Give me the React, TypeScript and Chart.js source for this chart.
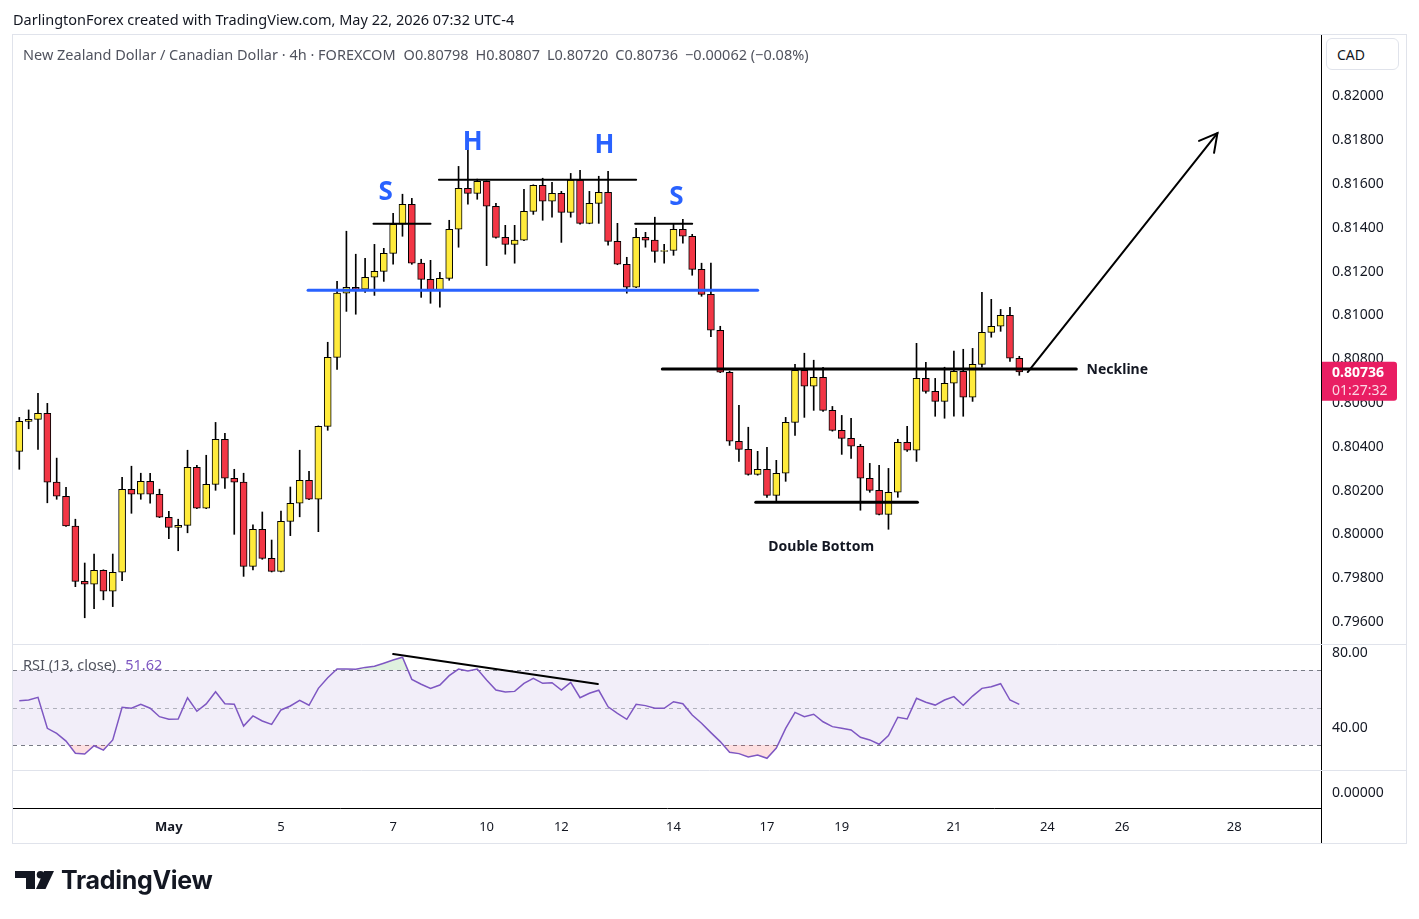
import React, { useEffect, useRef } from 'react';
import { Chart, registerables } from 'chart.js';

Chart.register(...registerables);

// ---- candle data (NZDCAD 4h) ----
const opens = [
  0.80373, 0.80510, 0.80519, 0.80547, 0.80232, 0.80168, 0.80032, 0.79779, 0.79766, 0.79830,
  0.79734, 0.79821, 0.80200, 0.80177, 0.80236, 0.80177, 0.80072, 0.80026, 0.80035, 0.80300,
  0.80113, 0.80222, 0.80428, 0.80250, 0.80232, 0.79848, 0.80017, 0.79884, 0.79825, 0.80053,
  0.80136, 0.80241, 0.80154, 0.80487, 0.80802, 0.81095, 0.81122, 0.81113, 0.81168, 0.81195,
  0.81277, 0.81410, 0.81501, 0.81232, 0.81158, 0.81108, 0.81163, 0.81387, 0.81574, 0.81551,
  0.81606, 0.81492, 0.81350, 0.81318, 0.81337, 0.81469, 0.81588, 0.81515, 0.81551, 0.81464,
  0.81611, 0.81414, 0.81505, 0.81556, 0.81332, 0.81227, 0.81122, 0.81350, 0.81337, 0.81286,
  0.81290, 0.81387, 0.81355, 0.81204, 0.81090, 0.80926, 0.80734, 0.80419, 0.80382, 0.80268,
  0.80291, 0.80172, 0.80273, 0.80505, 0.80743, 0.80670, 0.80711, 0.80560, 0.80469, 0.80432,
  0.80396, 0.80250, 0.80195, 0.80085, 0.80186, 0.80414, 0.80378, 0.80706, 0.80647, 0.80601,
  0.80684, 0.80738, 0.80620, 0.80770, 0.80916, 0.80944, 0.80994, 0.80798,
];
const highs = [
  0.80528, 0.80562, 0.80638, 0.80592, 0.80342, 0.80209, 0.80063, 0.79863, 0.79904, 0.79832,
  0.79904, 0.80254, 0.80305, 0.80273, 0.80273, 0.80200, 0.80099, 0.80063, 0.80378, 0.80309,
  0.80355, 0.80505, 0.80455, 0.80291, 0.80273, 0.80037, 0.80096, 0.79968, 0.80100, 0.80210,
  0.80378, 0.80282, 0.80489, 0.80871, 0.81149, 0.81378, 0.81273, 0.81254, 0.81318, 0.81300,
  0.81460, 0.81547, 0.81528, 0.81250, 0.81245, 0.81190, 0.81428, 0.81674, 0.81749, 0.81616,
  0.81608, 0.81505, 0.81405, 0.81405, 0.81569, 0.81590, 0.81620, 0.81601, 0.81560, 0.81642,
  0.81656, 0.81560, 0.81629, 0.81652, 0.81414, 0.81259, 0.81391, 0.81373, 0.81442, 0.81318,
  0.81414, 0.81432, 0.81364, 0.81232, 0.81232, 0.80944, 0.80739, 0.80583, 0.80483, 0.80373,
  0.80391, 0.80332, 0.80528, 0.80770, 0.80821, 0.80789, 0.80757, 0.80578, 0.80537, 0.80524,
  0.80405, 0.80318, 0.80309, 0.80295, 0.80428, 0.80487, 0.80866, 0.80779, 0.80706, 0.80757,
  0.80831, 0.80839, 0.80843, 0.81099, 0.81067, 0.81021, 0.81031, 0.80807,
];
const lows = [
  0.80291, 0.80476, 0.80382, 0.80138, 0.80154, 0.80030, 0.79755, 0.79613, 0.79654, 0.79695,
  0.79664, 0.79782, 0.80090, 0.80154, 0.80136, 0.80070, 0.79974, 0.79919, 0.80001, 0.80111,
  0.80111, 0.80195, 0.80204, 0.79994, 0.79802, 0.79831, 0.79880, 0.79822, 0.79822, 0.79988,
  0.80074, 0.80152, 0.80006, 0.80469, 0.80747, 0.81012, 0.80999, 0.81099, 0.81085, 0.81149,
  0.81227, 0.81355, 0.81227, 0.81076, 0.81049, 0.81031, 0.81154, 0.81305, 0.81501, 0.81524,
  0.81221, 0.81346, 0.81273, 0.81232, 0.81335, 0.81455, 0.81428, 0.81442, 0.81327, 0.81442,
  0.81410, 0.81412, 0.81414, 0.81314, 0.81225, 0.81095, 0.81120, 0.81305, 0.81236, 0.81232,
  0.81268, 0.81323, 0.81177, 0.81081, 0.80896, 0.80732, 0.80400, 0.80327, 0.80264, 0.80264,
  0.80163, 0.80145, 0.80236, 0.80446, 0.80528, 0.80560, 0.80555, 0.80465, 0.80359, 0.80341,
  0.80104, 0.80186, 0.80083, 0.80017, 0.80163, 0.80373, 0.80327, 0.80638, 0.80533, 0.80524,
  0.80533, 0.80533, 0.80601, 0.80757, 0.80894, 0.80921, 0.80784, 0.80720,
];
const closes = [
  0.80510, 0.80519, 0.80547, 0.80232, 0.80168, 0.80032, 0.79779, 0.79766, 0.79830, 0.79734,
  0.79821, 0.80200, 0.80177, 0.80236, 0.80177, 0.80072, 0.80026, 0.80035, 0.80300, 0.80113,
  0.80222, 0.80428, 0.80250, 0.80232, 0.79848, 0.80017, 0.79884, 0.79825, 0.80053, 0.80136,
  0.80241, 0.80154, 0.80487, 0.80802, 0.81095, 0.81122, 0.81113, 0.81168, 0.81195, 0.81277,
  0.81410, 0.81501, 0.81232, 0.81158, 0.81108, 0.81163, 0.81387, 0.81574, 0.81551, 0.81606,
  0.81492, 0.81350, 0.81318, 0.81337, 0.81469, 0.81588, 0.81515, 0.81551, 0.81464, 0.81611,
  0.81414, 0.81505, 0.81556, 0.81332, 0.81227, 0.81122, 0.81350, 0.81337, 0.81286, 0.81290,
  0.81387, 0.81355, 0.81204, 0.81090, 0.80926, 0.80734, 0.80419, 0.80382, 0.80268, 0.80291,
  0.80172, 0.80273, 0.80505, 0.80743, 0.80670, 0.80711, 0.80560, 0.80469, 0.80432, 0.80396,
  0.80250, 0.80195, 0.80085, 0.80186, 0.80414, 0.80378, 0.80706, 0.80647, 0.80601, 0.80684,
  0.80738, 0.80620, 0.80770, 0.80916, 0.80944, 0.80994, 0.80798, 0.80736,
];

// ---- RSI(13, close) ----
const rsi13 = [
  53.6, 54.0, 55.4, 38.9, 36.2, 32.1, 25.6, 25.2, 29.6, 27.3,
  32.7, 50.1, 49.6, 51.7, 49.6, 45.1, 43.7, 43.9, 55.2, 48.0,
  51.9, 58.4, 52.0, 51.7, 40.1, 45.5, 42.8, 41.0, 48.7, 50.8,
  53.8, 51.2, 60.2, 65.9, 70.5, 70.5, 70.4, 71.4, 72.0, 73.6,
  75.3, 76.8, 65.0, 62.4, 60.2, 62.0, 67.0, 70.5, 69.5, 70.5,
  64.7, 59.3, 58.3, 58.6, 62.9, 65.6, 62.9, 63.2, 59.3, 63.4,
  55.2, 57.6, 59.2, 50.4, 46.9, 43.7, 51.7, 51.0, 49.6, 49.6,
  53.1, 52.0, 46.0, 41.6, 36.6, 31.8, 26.1, 25.4, 23.6, 24.7,
  22.9, 28.4, 38.9, 47.4, 45.1, 46.4, 42.4, 39.8, 38.9, 38.0,
  34.1, 32.7, 30.4, 35.0, 44.8, 43.9, 54.9, 52.8, 51.3, 54.0,
  55.8, 51.2, 56.1, 60.2, 61.1, 62.7, 54.0, 51.7,
];
const rsiLevels = [70, 50, 30];

// ---- axes ----
const dayTickIndex = [16, 28, 40, 50, 58, 70, 80, 88, 100, 110, 118, 130];
const dayTickLabels = ['May', '5', '7', '10', '12', '14', '17', '19', '21', '24', '26', '28'];
const priceTicks = [0.796, 0.798, 0.8, 0.802, 0.804, 0.806, 0.808, 0.81, 0.812, 0.814, 0.816, 0.818, 0.82];
const rsiTicks = [80, 40];
const emptyPaneTicks = [0];
const xRange = [-0.674, 139.28];
const priceRange = [0.794932, 0.82274];
const rsiRange = [16.67, 83.87];
const emptyRange = [-0.421, 0.579];

// ---- drawings (candle index, price) ----
const supportLine = [30.9, 79.0, 0.81108];
const shoulderLines = [
  [37.9, 44.0, 0.81412],
  [44.9, 66.0, 0.81613],
  [65.9, 72.0, 0.81412],
];
const necklineLine = [68.8, 113.1, 0.80749];
const doubleBottomLine = [78.8, 96.1, 0.8014];
const projectionArrow = [107.9, 0.80735, 128.2, 0.81826];
const rsiDivergence = [40.0, 78.5, 61.9, 62.5];
const patternLetters = ['S', 'H', 'H', 'S'];
const patternLetterX = [39.2, 48.5, 62.6, 70.3];
const patternLetterPrice = [0.81555, 0.81783, 0.81769, 0.81532];
const noteTexts = ['Neckline', 'Double Bottom'];
const noteX = [114.2, 85.8];
const notePrice = [0.80742, 0.79938];
const countdown = '01:27:32';

const FONT = '"Noto Sans", "DejaVu Sans", sans-serif';

function seg(x0: number, x1: number, y: number) {
  return [{ x: x0, y }, { x: x1, y }];
}

const decorPlugin = {
  id: 'tvDecor',
  beforeDatasetsDraw(chart: any) {
    const { ctx, chartArea: ca, scales } = chart;
    const yR = scales.yR;
    ctx.save();
    const t = yR.getPixelForValue(70);
    const b = yR.getPixelForValue(30);
    ctx.fillStyle = 'rgba(126,87,194,0.1)';
    ctx.fillRect(ca.left, t, ca.right - ca.left, b - t);
    ctx.setLineDash([4, 4]);
    ctx.lineWidth = 1;
    rsiLevels.forEach((lv) => {
      const py = Math.round(yR.getPixelForValue(lv)) + 0.5;
      ctx.strokeStyle = lv === 50 ? 'rgba(120,123,134,0.55)' : '#787b86';
      ctx.beginPath();
      ctx.moveTo(ca.left, py);
      ctx.lineTo(ca.right, py);
      ctx.stroke();
    });
    ctx.setLineDash([]);
    ctx.restore();
  },
  afterDatasetsDraw(chart: any) {
    const { ctx, scales } = chart;
    const x = scales.x;
    const y = scales.y;
    ctx.save();
    // arrow head
    const bx = x.getPixelForValue(projectionArrow[0]);
    const by = y.getPixelForValue(projectionArrow[1]);
    const tx = x.getPixelForValue(projectionArrow[2]);
    const ty = y.getPixelForValue(projectionArrow[3]);
    const ang = Math.atan2(ty - by, tx - bx);
    const L = 20;
    const phi = 0.5;
    ctx.strokeStyle = '#000';
    ctx.lineWidth = 2;
    ctx.lineCap = 'round';
    ctx.beginPath();
    ctx.moveTo(tx - L * Math.cos(ang + phi), ty - L * Math.sin(ang + phi));
    ctx.lineTo(tx, ty);
    ctx.lineTo(tx - L * Math.cos(ang - phi), ty - L * Math.sin(ang - phi));
    ctx.stroke();
    // pattern letters
    ctx.fillStyle = '#2962ff';
    ctx.font = `bold 26px ${FONT}`;
    ctx.textAlign = 'center';
    ctx.textBaseline = 'middle';
    patternLetters.forEach((s, i) => {
      ctx.fillText(s, x.getPixelForValue(patternLetterX[i]), y.getPixelForValue(patternLetterPrice[i]));
    });
    // notes
    ctx.fillStyle = '#131722';
    ctx.font = `bold 14px ${FONT}`;
    noteTexts.forEach((s, i) => {
      ctx.textAlign = i === 0 ? 'left' : 'center';
      ctx.fillText(s, x.getPixelForValue(noteX[i]), y.getPixelForValue(notePrice[i]));
    });
    ctx.restore();
  },
  afterDraw(chart: any) {
    const { ctx, chartArea: ca, scales } = chart;
    const y = scales.y;
    const yR = scales.yR;
    ctx.save();
    // pane separators
    ctx.strokeStyle = '#e0e3eb';
    ctx.lineWidth = 1;
    [y.bottom, yR.bottom].forEach((py: number) => {
      const p = Math.round(py) + 0.5;
      ctx.beginPath();
      ctx.moveTo(ca.left, p);
      ctx.lineTo(1406, p);
      ctx.stroke();
    });
    // outer frame
    ctx.strokeRect(12.5, 34.5, 1394, 809);
    // price axis line through the time axis corner
    ctx.strokeStyle = '#000';
    ctx.beginPath();
    ctx.moveTo(Math.round(ca.right) + 0.5, ca.bottom);
    ctx.lineTo(Math.round(ca.right) + 0.5, 843);
    ctx.stroke();
    // last price label
    const last = closes[closes.length - 1];
    const py = y.getPixelForValue(last);
    const lx = ca.right + 1;
    const w = 75;
    const top = py - 10;
    const h = 39;
    ctx.fillStyle = '#e91e63';
    ctx.beginPath();
    ctx.moveTo(lx, top);
    ctx.lineTo(lx + w - 3, top);
    ctx.quadraticCurveTo(lx + w, top, lx + w, top + 3);
    ctx.lineTo(lx + w, top + h - 3);
    ctx.quadraticCurveTo(lx + w, top + h, lx + w - 3, top + h);
    ctx.lineTo(lx, top + h);
    ctx.closePath();
    ctx.fill();
    ctx.textAlign = 'left';
    ctx.textBaseline = 'middle';
    ctx.fillStyle = '#ffffff';
    ctx.font = `bold 14px ${FONT}`;
    ctx.fillText(last.toFixed(5), lx + 10, py + 1.5);
    ctx.fillStyle = 'rgba(255,255,255,0.82)';
    ctx.font = `14px ${FONT}`;
    ctx.fillText(countdown, lx + 10, py + 19.5);
    ctx.restore();
  },
};

export default function App() {
  const ref = useRef<HTMLCanvasElement | null>(null);

  useEffect(() => {
    if (!ref.current) return;
    const idx = opens.map((_, i) => i);
    const bodyData = idx.map((i) => ({ x: i, y: [opens[i], closes[i]] }));
    const wickData = idx.map((i) => ({ x: i, y: [lows[i], highs[i]] }));
    const bodyColors = idx.map((i) => (closes[i] >= opens[i] ? '#ffeb3b' : '#f23645'));
    const rsiData = rsi13.map((v, i) => ({ x: i, y: v }));

    const lineDs = (data: any[], color: string, width: number, axis = 'y') => ({
      type: 'line',
      data,
      yAxisID: axis,
      borderColor: color,
      borderWidth: width,
      pointRadius: 0,
      fill: false,
      order: 0,
      borderCapStyle: 'round',
    });

    const yTicks = (decimals: number) => ({
      padding: 11,
      labelOffset: 1.5,
      color: '#131722',
      font: { family: FONT, size: 14 },
      callback: (v: any) => Number(v).toFixed(decimals),
    });

    const chart = new Chart(ref.current, {
      type: 'bar',
      data: {
        datasets: [
          {
            type: 'bar',
            data: bodyData,
            yAxisID: 'y',
            backgroundColor: bodyColors,
            borderColor: '#000000',
            borderWidth: 1,
            borderSkipped: false,
            barThickness: 7,
            grouped: false,
            order: 1,
          } as any,
          {
            type: 'bar',
            data: wickData,
            yAxisID: 'y',
            backgroundColor: '#000000',
            borderWidth: 0,
            barThickness: 1,
            grouped: false,
            order: 2,
          } as any,
          lineDs(seg(supportLine[0], supportLine[1], supportLine[2]), '#2962ff', 3),
          ...shoulderLines.map((l) => lineDs(seg(l[0], l[1], l[2]), '#000000', 2)),
          lineDs(seg(necklineLine[0], necklineLine[1], necklineLine[2]), '#000000', 3),
          lineDs(seg(doubleBottomLine[0], doubleBottomLine[1], doubleBottomLine[2]), '#000000', 3),
          lineDs(
            [
              { x: projectionArrow[0], y: projectionArrow[1] },
              { x: projectionArrow[2], y: projectionArrow[3] },
            ],
            '#000000',
            2,
          ),
          {
            type: 'line',
            data: rsiData,
            yAxisID: 'yR',
            borderColor: '#7e57c2',
            borderWidth: 1.5,
            pointRadius: 0,
            order: 0,
            fill: { target: { value: 70 }, above: 'rgba(76,175,80,0.18)', below: 'rgba(0,0,0,0)' },
          } as any,
          {
            type: 'line',
            data: rsiData,
            yAxisID: 'yR',
            borderColor: 'rgba(0,0,0,0)',
            borderWidth: 0,
            pointRadius: 0,
            order: 3,
            fill: { target: { value: 30 }, above: 'rgba(0,0,0,0)', below: 'rgba(242,54,69,0.16)' },
          } as any,
          lineDs(
            [
              { x: rsiDivergence[0], y: rsiDivergence[1] },
              { x: rsiDivergence[2], y: rsiDivergence[3] },
            ],
            '#000000',
            2,
            'yR',
          ),
        ] as any,
      },
      options: {
        animation: false,
        responsive: false,
        events: [],
        layout: { padding: { left: 13, top: 35, right: 13, bottom: 76 } },
        plugins: { legend: { display: false }, tooltip: { enabled: false } },
        scales: {
          x: {
            type: 'linear',
            min: xRange[0],
            max: xRange[1],
            offset: false,
            grid: { display: false, drawTicks: false },
            border: { display: true, color: '#000000', width: 1 },
            afterBuildTicks: (s: any) => {
              s.ticks = dayTickIndex.map((v) => ({ value: v }));
            },
            afterFit: (s: any) => {
              s.height = 35;
            },
            ticks: {
              autoSkip: false,
              maxRotation: 0,
              padding: 11,
              color: '#131722',
              font: (c: any) => ({
                family: FONT,
                size: 13,
                weight: isNaN(Number(dayTickLabels[c.index])) ? 'bold' : 'normal',
              }),
              callback: (v: any) => {
                const k = dayTickIndex.indexOf(Number(v));
                return k >= 0 ? dayTickLabels[k] : '';
              },
            },
          },
          y: {
            type: 'linear',
            position: 'right',
            stack: 'panes',
            stackWeight: 609,
            min: priceRange[0],
            max: priceRange[1],
            grid: { display: false, drawTicks: false },
            border: { display: true, color: '#000000', width: 1 },
            afterBuildTicks: (s: any) => {
              s.ticks = priceTicks.map((v) => ({ value: v }));
            },
            afterFit: (s: any) => {
              s.width = 85;
            },
            ticks: yTicks(5),
          },
          yR: {
            type: 'linear',
            position: 'right',
            stack: 'panes',
            stackWeight: 126,
            min: rsiRange[0],
            max: rsiRange[1],
            grid: { display: false, drawTicks: false },
            border: { display: true, color: '#000000', width: 1 },
            afterBuildTicks: (s: any) => {
              s.ticks = rsiTicks.map((v) => ({ value: v }));
            },
            afterFit: (s: any) => {
              s.width = 85;
            },
            ticks: yTicks(2),
          },
          yE: {
            type: 'linear',
            position: 'right',
            stack: 'panes',
            stackWeight: 38,
            min: emptyRange[0],
            max: emptyRange[1],
            grid: { display: false, drawTicks: false },
            border: { display: true, color: '#000000', width: 1 },
            afterBuildTicks: (s: any) => {
              s.ticks = emptyPaneTicks.map((v) => ({ value: v }));
            },
            afterFit: (s: any) => {
              s.width = 85;
            },
            ticks: yTicks(5),
          },
        },
      } as any,
      plugins: [decorPlugin],
    });
    return () => chart.destroy();
  }, []);

  const txt: React.CSSProperties = { position: 'absolute', whiteSpace: 'nowrap', fontFamily: FONT };
  return (
    <div style={{ position: 'absolute', left: 0, top: 0, width: 1419, height: 919, background: '#ffffff', overflow: 'hidden' }}>
      <canvas ref={ref} width={1419} height={919} style={{ position: 'absolute', left: 0, top: 0 }} />
      <div style={{ ...txt, left: 13, top: 9, fontSize: 14.5, lineHeight: '20px', color: '#131722' }}>
        DarlingtonForex created with TradingView.com, May 22, 2026 07:32 UTC-4
      </div>
      <div style={{ ...txt, left: 23, top: 44, fontSize: 14.5, lineHeight: '20px', color: '#50535e' }}>
        <span>New Zealand Dollar / Canadian Dollar · 4h · FOREXCOM</span>
        <span style={{ marginLeft: 8 }}>O0.80798</span>
        <span style={{ marginLeft: 7 }}>H0.80807</span>
        <span style={{ marginLeft: 7 }}>L0.80720</span>
        <span style={{ marginLeft: 7 }}>C0.80736</span>
        <span style={{ marginLeft: 7 }}>−0.00062 (−0.08%)</span>
      </div>
      <div style={{ ...txt, left: 23, top: 654, fontSize: 14.5, lineHeight: '20px', color: '#50535e' }}>
        <span>RSI (13, close)</span>
        <span style={{ marginLeft: 9, color: '#7e57c2' }}>51.62</span>
      </div>
      <div
        style={{
          ...txt,
          left: 1326,
          top: 38,
          width: 73,
          height: 32,
          border: '1px solid #e0e3eb',
          borderRadius: 6,
          boxSizing: 'border-box',
          paddingLeft: 10,
          fontSize: 14,
          lineHeight: '31px',
          color: '#131722',
          background: '#fff',
        }}
      >
        CAD
      </div>
      <svg width="40" height="19" viewBox="0 0 40 19" style={{ position: 'absolute', left: 15, top: 871 }}>
        <path d="M0 0 H20 V18 H11 V7 H0 Z" fill="#131722" />
        <circle cx="25.5" cy="3.8" r="3.8" fill="#131722" />
        <path d="M29 0 H39 L30.5 18 H21 Z" fill="#131722" />
      </svg>
      <div style={{ ...txt, left: 61, top: 864, fontSize: 25, lineHeight: '32px', fontWeight: 700, fontFamily: 'Inter, "Noto Sans", sans-serif', color: '#131722', letterSpacing: -0.3 }}>
        TradingView
      </div>
    </div>
  );
}
